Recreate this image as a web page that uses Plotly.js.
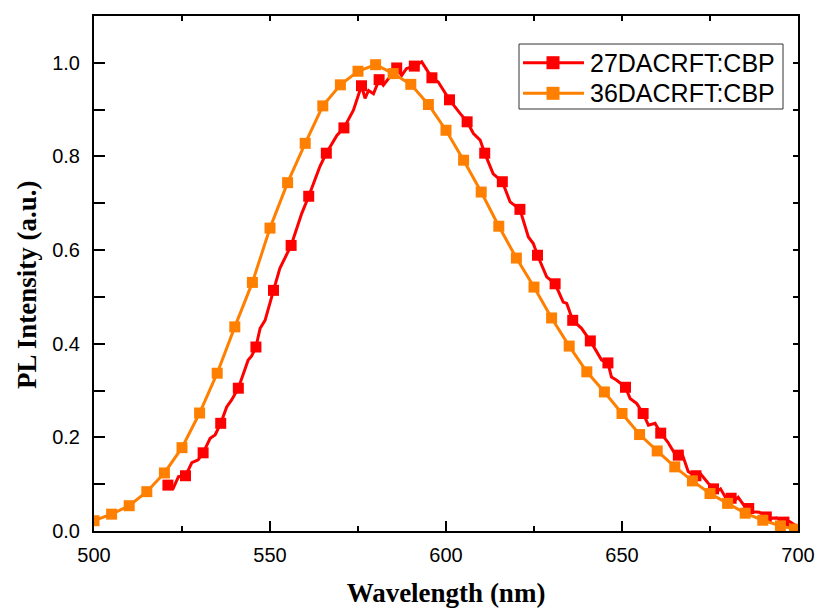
<!DOCTYPE html>
<html>
<head>
<meta charset="utf-8">
<script src="https://cdn.plot.ly/plotly-3.0.1.min.js"></script>
<style>html,body{margin:0;padding:0;background:#fff}#chart{width:819px;height:611px}</style>
</head>
<body>
<div id="chart"></div>
<script>
// ---- data ----
const seriesNames = ["27DACRFT:CBP", "36DACRFT:CBP"];

// 27DACRFT:CBP — measured trace (noisy line)
const redX = [521,522.5,524,526,527.8,529.6,531,533,534.4,536,537.7,539.1,541,543.8,544.8,546,547.2,548.6,551,552.8,556,559,561,564.2,566,569,571,573.7,576,577,578,579.4,581,582.2,586,587.4,588.8,591,593.1,596,597.8,601,604,606,607.8,609.7,611,613.4,616,618.2,621,623.4,624.8,626,628.6,631,633.3,634.3,636,638.5,641,644.2,646,647,648.5,651,652.3,654.2,656,657.5,659.4,661,663,665.5,666.9,668.8,670.3,672,674.5,676.9,678,679.3,682.1,683,684.9,687.3,689,692,694,695.8,697.5,699.6];
const redY = [0.098,0.091,0.116,0.118,0.146,0.152,0.167,0.198,0.205,0.230,0.265,0.280,0.305,0.365,0.374,0.393,0.433,0.450,0.514,0.561,0.610,0.678,0.715,0.779,0.807,0.845,0.861,0.899,0.951,0.924,0.941,0.934,0.964,0.952,0.989,0.973,0.988,0.993,1.002,0.968,0.959,0.921,0.892,0.874,0.849,0.835,0.807,0.763,0.746,0.703,0.687,0.628,0.614,0.589,0.543,0.528,0.489,0.486,0.450,0.433,0.406,0.365,0.359,0.329,0.322,0.307,0.283,0.272,0.251,0.226,0.230,0.209,0.190,0.159,0.169,0.127,0.120,0.125,0.102,0.084,0.090,0.073,0.066,0.072,0.052,0.041,0.040,0.027,0.028,0.020,0.021,0.010];
// 27DACRFT:CBP — symbol positions
const redMarkX = [521,526,531,536,541,546,551,556,561,566,571,576,581,586,591,596,601,606,611,616,621,626,631,636,641,646,651,656,661,666,671,676,681,686,691,696];
const redMarkY = [0.098,0.118,0.167,0.230,0.305,0.393,0.514,0.610,0.715,0.807,0.861,0.951,0.964,0.989,0.993,0.968,0.921,0.874,0.807,0.746,0.687,0.589,0.528,0.450,0.406,0.359,0.307,0.251,0.209,0.162,0.118,0.090,0.070,0.048,0.030,0.019];

// 36DACRFT:CBP
const orangeX = [500,505,510,515,520,525,530,535,540,545,550,555,560,565,570,575,580,585,590,595,600,605,610,615,620,625,630,635,640,645,650,655,660,665,670,675,680,685,690,695,699];
const orangeY = [0.022,0.036,0.054,0.084,0.124,0.178,0.252,0.337,0.436,0.531,0.647,0.744,0.828,0.908,0.953,0.982,0.996,0.977,0.954,0.911,0.856,0.792,0.724,0.651,0.583,0.521,0.455,0.395,0.340,0.297,0.251,0.206,0.171,0.137,0.107,0.080,0.059,0.038,0.023,0.011,0.004];

const xTickVals = [500, 550, 600, 650, 700];
const yTickVals = [0, 0.2, 0.4, 0.6, 0.8, 1.0];
const yTickText = ["0.0", "0.2", "0.4", "0.6", "0.8", "1.0"];
const xTitle = "Wavelength (nm)";
const yTitle = "PL Intensity (a.u.)";

// ---- styling ----
const RED = "#ff0000", ORANGE = "#ff8000";
const colors = [RED, ORANGE];
const LW = 3, MS = 11;
const sans = "Liberation Sans, Arial, sans-serif";
const serif = "Liberation Serif, Times New Roman, serif";

const traces = [
  {x: redX, y: redY, mode: "lines", line: {color: RED, width: LW}, name: seriesNames[0], showlegend: false, hoverinfo: "skip"},
  {x: redMarkX, y: redMarkY, mode: "markers", marker: {symbol: "square", color: RED, size: MS}, name: seriesNames[0], showlegend: false},
  {x: orangeX, y: orangeY, mode: "lines+markers", line: {color: ORANGE, width: LW},
   marker: {symbol: "square", color: ORANGE, size: MS}, name: seriesNames[1], showlegend: false},
  // empty trace so the frame axes (top / right) exist
  {x: [null], y: [null], xaxis: "x2", yaxis: "y2", showlegend: false, hoverinfo: "skip"}
];

// ---- legend box (drawn in paper space) ----
const legBox = {x0: 0.6037, x1: 0.9787, y0: 0.8194, y1: 0.9456};
const legRowsY = [0.9093, 0.8499];
const legLineX = [0.6094, 0.6960], legMarkX = 0.6520, legTextX = 0.7017;

const shapes = [
  {type: "rect", xref: "paper", yref: "paper", x0: legBox.x0, x1: legBox.x1, y0: legBox.y0, y1: legBox.y1,
   line: {color: "#333", width: 1}, fillcolor: "#fff", layer: "above"}
];
const annotations = [];
seriesNames.forEach((nm, i) => {
  shapes.push({type: "line", xref: "paper", yref: "paper", x0: legLineX[0], x1: legLineX[1],
    y0: legRowsY[i], y1: legRowsY[i], line: {color: colors[i], width: LW}, layer: "above"});
  shapes.push({type: "rect", xref: "paper", yref: "paper", xsizemode: "pixel", ysizemode: "pixel",
    xanchor: legMarkX, yanchor: legRowsY[i], x0: -6.5, x1: 6.5, y0: -6.5, y1: 6.5,
    line: {width: 0}, fillcolor: colors[i], layer: "above"});
  annotations.push({xref: "paper", yref: "paper", x: legTextX, y: legRowsY[i], xanchor: "left", yanchor: "middle",
    text: nm, showarrow: false, font: {family: sans, size: 25, color: "#000"}});
});
annotations.push({xref: "paper", yref: "paper", x: -0.095, y: 0.4777, xanchor: "center", yanchor: "middle",
  text: yTitle, textangle: -90, showarrow: false, font: {family: serif, size: 27, color: "#000", weight: "bold"}});

const layout = {
  width: 819, height: 611,
  margin: {l: 94, r: 21, t: 16, b: 80},
  paper_bgcolor: "#fff", plot_bgcolor: "#fff",
  showlegend: false,
  shapes: shapes,
  annotations: annotations,
  xaxis: {
    range: [500, 700], tickvals: xTickVals,
    ticks: "inside", ticklen: 10, tickwidth: 2, tickcolor: "#000",
    minor: {tickvals: [525, 575, 625, 675], ticks: "inside", ticklen: 5, tickwidth: 2, tickcolor: "#000"},
    showline: true, linecolor: "#000", linewidth: 2, showgrid: false, zeroline: false,
    tickfont: {family: sans, size: 20, color: "#000"}, ticklabelstandoff: 5,
    title: {text: xTitle, font: {family: serif, size: 27, color: "#000", weight: "bold"}, standoff: 18}
  },
  yaxis: {
    range: [0, 1.1], tickvals: yTickVals, ticktext: yTickText,
    ticks: "inside", ticklen: 11, tickwidth: 2, tickcolor: "#000",
    minor: {tickvals: [0.1, 0.3, 0.5, 0.7, 0.9], ticks: "inside", ticklen: 11, tickwidth: 2, tickcolor: "#000"},
    showline: true, linecolor: "#000", linewidth: 2, showgrid: false, zeroline: false,
    tickfont: {family: sans, size: 20, color: "#000"}, ticklabelstandoff: 8
  },
  xaxis2: {
    overlaying: "x", side: "top", anchor: "y2", range: [500, 700],
    tickvals: [525, 550, 575, 600, 625, 650, 675], ticks: "inside", ticklen: 5, tickwidth: 2, tickcolor: "#000",
    showticklabels: false, showline: true, linecolor: "#000", linewidth: 2, showgrid: false, zeroline: false
  },
  yaxis2: {
    overlaying: "y", side: "right", anchor: "x2", range: [0, 1.1],
    tickvals: [0.1, 0.2, 0.3, 0.4, 0.5, 0.6, 0.7, 0.8, 0.9, 1.0], ticks: "inside", ticklen: 5, tickwidth: 2, tickcolor: "#000",
    showticklabels: false, showline: true, linecolor: "#000", linewidth: 2, showgrid: false, zeroline: false
  }
};

Plotly.newPlot("chart", traces, layout, {staticPlot: true, displayModeBar: false});
</script>
</body>
</html>
